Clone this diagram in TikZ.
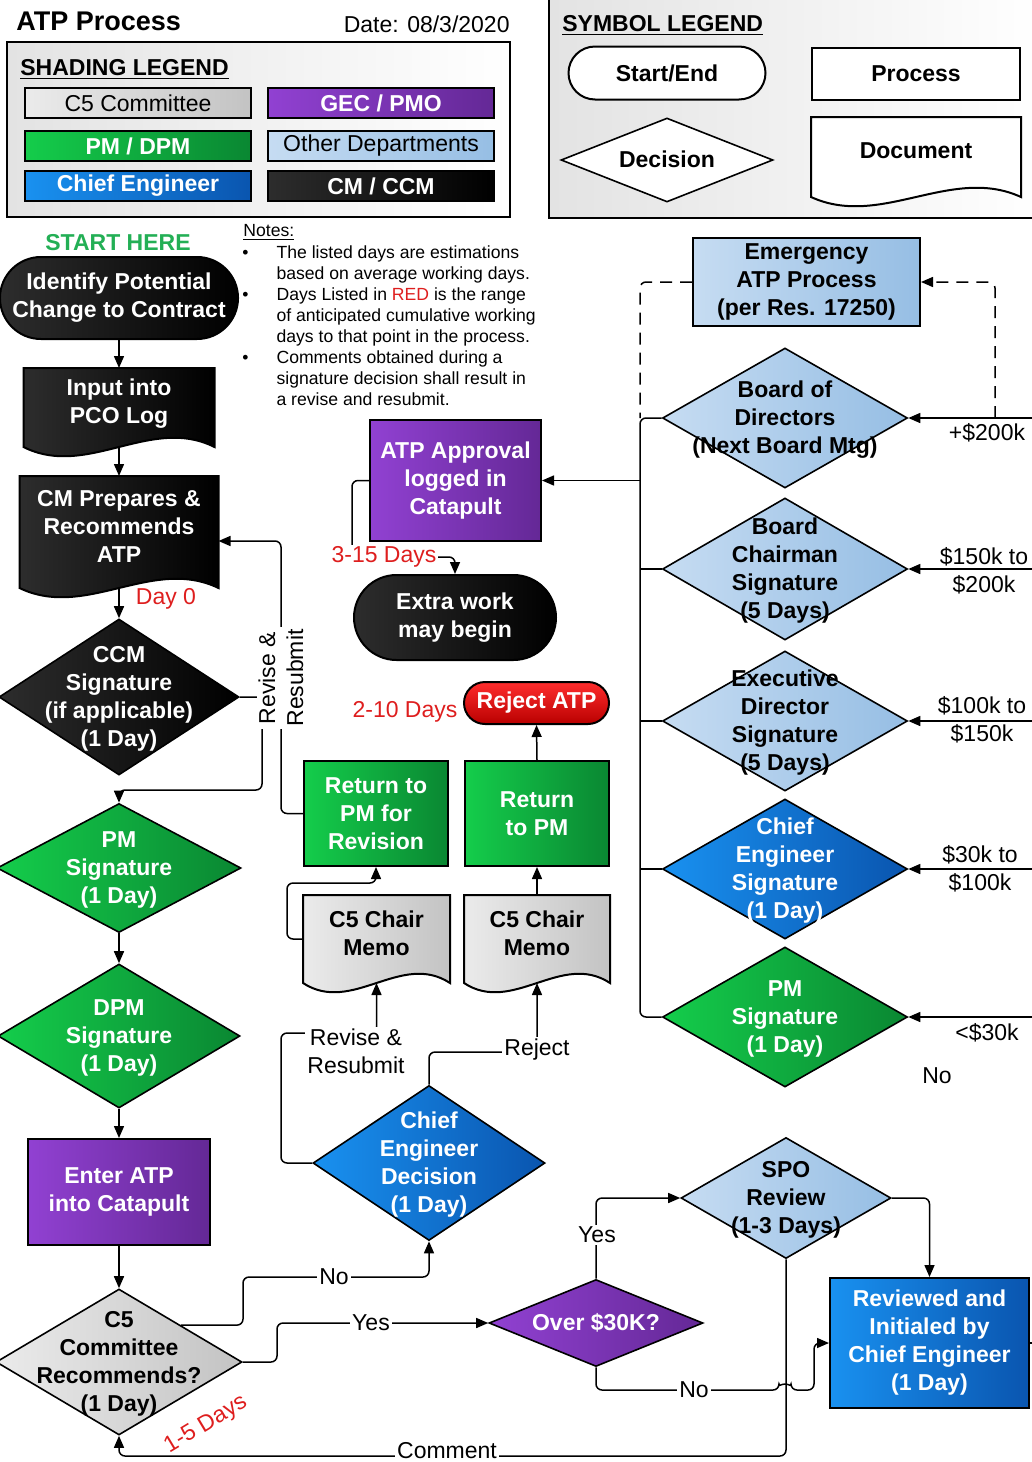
\documentclass[tikz,border=0pt]{standalone}
\usepackage{fontspec}
\setmainfont{Liberation Sans}
\usetikzlibrary{arrows.meta,shapes.geometric,shapes.misc}

\definecolor{pmL}{RGB}{20,205,75}
\definecolor{pmD}{RGB}{10,135,50}
\definecolor{gecL}{RGB}{145,65,210}
\definecolor{gecD}{RGB}{100,40,150}
\definecolor{ceL}{RGB}{25,145,240}
\definecolor{ceD}{RGB}{10,85,175}
\definecolor{odL}{RGB}{198,220,242}
\definecolor{odD}{RGB}{150,190,228}
\definecolor{c5L}{RGB}{235,235,235}
\definecolor{c5D}{RGB}{195,195,195}
\definecolor{cmL}{RGB}{45,45,45}
\definecolor{cmD}{RGB}{0,0,0}
\definecolor{rejL}{RGB}{255,45,45}
\definecolor{rejD}{RGB}{185,0,0}
\definecolor{dayred}{RGB}{222,30,30}
\definecolor{startgreen}{RGB}{35,175,85}

% flowchart document: a box with a wavy bottom
\makeatletter
\pgfdeclareshape{document}{
  \inheritsavedanchors[from=rectangle]
  \inheritanchorborder[from=rectangle]
  \inheritanchor[from=rectangle]{center}
  \inheritanchor[from=rectangle]{north}
  \inheritanchor[from=rectangle]{south}
  \inheritanchor[from=rectangle]{east}
  \inheritanchor[from=rectangle]{west}
  \inheritanchor[from=rectangle]{north east}
  \inheritanchor[from=rectangle]{north west}
  \inheritanchor[from=rectangle]{south east}
  \inheritanchor[from=rectangle]{south west}
  \backgroundpath{%
    \southwest \edef\docl{\the\pgf@x}\edef\docb{\the\pgf@y}%
    \northeast \edef\docr{\the\pgf@x}\edef\doct{\the\pgf@y}%
    \pgf@xc=\docr \advance\pgf@xc by-\docl \pgf@xc=0.333\pgf@xc
    \pgf@xa=\docr \advance\pgf@xa by-\pgf@xc \edef\docca{\the\pgf@xa}%
    \pgf@xa=\docl \advance\pgf@xa by\pgf@xc \edef\doccb{\the\pgf@xa}%
    \pgf@ya=\docb \advance\pgf@ya by 16pt \edef\docup{\the\pgf@ya}%
    \pgf@ya=\docb \advance\pgf@ya by -16pt \edef\docdn{\the\pgf@ya}%
    \pgfpathmoveto{\pgfqpoint{\docl}{\doct}}%
    \pgfpathlineto{\pgfqpoint{\docr}{\doct}}%
    \pgfpathlineto{\pgfqpoint{\docr}{\docb}}%
    \pgfpathcurveto{\pgfqpoint{\docca}{\docup}}{\pgfqpoint{\doccb}{\docdn}}{\pgfqpoint{\docl}{\docb}}%
    \pgfpathclose
  }
}
\makeatother

% lines of a decision, kept out of the diamond's size
\newcommand{\dlines}[1]{\smash{\raisebox{-4pt}{\makebox[0pt]{\begin{tabular}{@{}c@{}}#1\end{tabular}}}}}

\begin{document}
\begin{tikzpicture}[x=0.5pt, y=-0.5pt,
    txt/.style={inner sep=0pt, font=\fontsize{11.5}{14}\selectfont},
    bold/.style={inner sep=0pt, font=\fontsize{11.5}{14}\selectfont\bfseries},
    small/.style={inner sep=0pt, font=\fontsize{8.8}{10.5}\selectfont},
    lbl/.style={txt, fill=white, inner sep=1pt},
    days/.style={lbl, text=dayred},
    line/.style={line width=0.75pt, rounded corners=3pt},
    arr/.style={line, -{Triangle[length=6pt,width=5pt]}},
    box/.style={rectangle, draw, line width=1pt, align=center, inner sep=2pt,
        font=\fontsize{11.5}{14}\selectfont\bfseries},
    term/.style={box, rounded rectangle},
    dec/.style={box, diamond, inner sep=0pt, line width=0.8pt},
    docu/.style={box, document, execute at end node={\rule[-6pt]{0pt}{0pt}}},
    leg/.style={box, minimum width=113pt, minimum height=15pt, inner sep=0pt},
    panel/.style={rectangle, draw, line width=1pt, left color=gray!22, right color=white, inner sep=0pt},
    fillpm/.style={left color=pmL, right color=pmD, text=white},
    fillgec/.style={left color=gecL, right color=gecD, text=white},
    fillce/.style={left color=ceL, right color=ceD, text=white},
    fillod/.style={left color=odL, right color=odD, text=black},
    fillc5/.style={left color=c5L, right color=c5D, text=black},
    fillcm/.style={left color=cmL, right color=cmD, text=white},
    fillrej/.style={top color=rejL, bottom color=rejD, text=white}]
    \useasboundingbox (0,0) rectangle (1032,1462);

    % Legends
    \node[bold, font=\fontsize{13.5}{16}\selectfont\bfseries, anchor=west] (title) at (16,21) {ATP Process};
    \node[txt, anchor=east] (date) at (510,24) {Date: 08/3/2020};
    \node[panel, minimum width=251.5pt, minimum height=87.5pt] (shadebox) at (258.5,129.5) {};
    \node[bold, anchor=base west] (shadehead) at (20,75) {\underline{SHADING LEGEND}};
    \node[leg, fillc5, font=\fontsize{11.5}{14}\selectfont] (legc5) at (138,103) {C5 Committee};
    \node[leg, fillgec] (leggec) at (381,103) {GEC / PMO};
    \node[leg, fillpm] (legpm) at (138,146) {PM / DPM};
    \node[leg, fillod, font=\fontsize{11.5}{14}\selectfont] (legod) at (381,146) {Other Departments};
    \node[leg, fillce] (legce) at (138,186) {Chief Engineer};
    \node[leg, fillcm] (legcm) at (381,186) {CM / CCM};

    \node[panel, minimum width=245.5pt, minimum height=111.5pt] (symbox) at (794.5,106.5) {};
    \node[bold, anchor=base west] (symhead) at (562,31) {\underline{SYMBOL LEGEND}};
    \node[term, fill=white, minimum width=102.5pt, minimum height=26.5pt] (symterm) at (667,73) {Start/End};
    \node[box, fill=white, minimum width=104pt, minimum height=26pt] (symproc) at (916,74) {Process};
    \node[dec, fill=white, minimum width=106pt, minimum height=42pt] (symdec) at (667,160) {\dlines{Decision}};
    \node[docu, fill=white, minimum width=104pt, minimum height=39pt] (symdoc) at (916,157) {Document};

    % Notes
    \node[small, anchor=base west] (noteshead) at (243,236) {\underline{Notes:}};
    \node[small, anchor=north west] (notes) at (242,243) {\begin{tabular}{@{}l@{\hspace{14pt}}l@{}}
        \textbullet & The listed days are estimations\\
        & based on average working days.\\
        \textbullet & Days Listed in \textcolor{dayred}{RED} is the range\\
        & of anticipated cumulative working\\
        & days to that point in the process.\\
        \textbullet & Comments obtained during a\\
        & signature decision shall result in\\
        & a revise and resubmit.
    \end{tabular}};

    % Left column
    \node[bold, text=startgreen, anchor=base] (starthere) at (118,250) {START HERE};
    \node[term, fillcm, minimum width=117pt, minimum height=41pt] (identify) at (119,298) {Identify Potential\\Change to Contract};
    \node[docu, fillcm, minimum width=94.5pt, minimum height=38.5pt] (pco) at (119,407.5) {Input into\\PCO Log};
    \node[docu, fillcm, minimum width=98.5pt, minimum height=55pt] (cmprep) at (119,532) {CM Prepares \&\\Recommends\\ATP};
    \node[txt, text=dayred] (day0) at (166,599) {Day 0};
    \node[dec, fillcm, minimum width=120pt, minimum height=78pt] (ccm) at (119,697) {\dlines{CCM\\Signature\\(if applicable)\\(1 Day)}};
    \node[dec, fillpm, minimum width=122pt, minimum height=64.5pt] (pmsig) at (119,868) {\dlines{PM\\Signature\\(1 Day)}};
    \node[dec, fillpm, minimum width=121pt, minimum height=72pt] (dpmsig) at (119,1036) {\dlines{DPM\\Signature\\(1 Day)}};
    \node[box, fillgec, minimum width=91pt, minimum height=53pt] (enteratp) at (119,1192) {Enter ATP\\into Catapult};
    \node[dec, fillc5, minimum width=123pt, minimum height=73pt] (c5rec) at (119,1362) {\dlines{C5\\Committee\\Recommends?\\(1 Day)}};
    \node[txt, text=dayred, rotate=31] (days15) at (206,1425) {1-5 Days};

    % Middle column
    \node[box, fillgec, minimum width=85.5pt, minimum height=60.5pt] (approval) at (455.5,480.5) {ATP Approval\\logged in\\Catapult};
    \node[term, fillcm, minimum width=105pt, minimum height=42.5pt] (extra) at (455,617.5) {Extra work\\may begin};
    \node[term, fillrej, minimum width=76.5pt, minimum height=21pt] (reject) at (536.5,703) {Reject ATP};
    \node[txt, text=dayred] (days210) at (405,712) {2-10 Days};
    \node[box, fillpm, minimum width=72pt, minimum height=52.5pt] (retrev) at (376,813.5) {Return to\\PM for\\Revision};
    \node[box, fillpm, minimum width=72pt, minimum height=52.5pt] (retpm) at (537,813.5) {Return\\to PM};
    \node[docu, fillc5, minimum width=72.5pt, minimum height=43pt] (memoa) at (376.5,939) {C5 Chair\\Memo};
    \node[docu, fillc5, minimum width=72pt, minimum height=43pt] (memob) at (537,939) {C5 Chair\\Memo};
    \node[dec, fillce, minimum width=116pt, minimum height=77.5pt] (ced) at (429,1163) {\dlines{Chief\\Engineer\\Decision\\(1 Day)}};
    \node[dec, fillgec, minimum width=107pt, minimum height=43.5pt] (over) at (596,1323) {\dlines{Over \$30K?}};
    \node[dec, fillod, minimum width=105pt, minimum height=60.5pt] (spo) at (786,1198) {\dlines{SPO\\Review\\(1-3 Days)}};
    \node[box, fillce, minimum width=99.5pt, minimum height=65pt] (reviewed) at (929.5,1343) {Reviewed and\\Initialed by\\Chief Engineer\\(1 Day)};

    % Right column
    \node[box, fillod, minimum width=113.5pt, minimum height=44pt] (emerg) at (806.5,282) {Emergency\\ATP Process\\(per Res. 17250)};
    \node[dec, fillod, minimum width=122.5pt, minimum height=70pt] (bod) at (785,418) {\dlines{Board of\\Directors\\(Next Board Mtg)}};
    \node[dec, fillod, minimum width=122.5pt, minimum height=71pt] (bcs) at (785,569) {\dlines{Board\\Chairman\\Signature\\(5 Days)}};
    \node[dec, fillod, minimum width=122.5pt, minimum height=70pt] (eds) at (785,721) {\dlines{Executive\\Director\\Signature\\(5 Days)}};
    \node[dec, fillce, minimum width=122.5pt, minimum height=70pt] (ces) at (785,869) {\dlines{Chief\\Engineer\\Signature\\(1 Day)}};
    \node[dec, fillpm, minimum width=122.5pt, minimum height=70pt] (pmsigb) at (785,1017) {\dlines{PM\\Signature\\(1 Day)}};
    \node[txt] (over200) at (987,433) {+\$200k};
    \node[txt, align=center] (to200) at (984,571) {\$150k to\\\$200k};
    \node[txt, align=center] (to150) at (982,720) {\$100k to\\\$150k};
    \node[txt, align=center] (to100) at (980,869) {\$30k to\\\$100k};
    \node[txt] (under30) at (987,1033) {<\$30k};
    \node[txt] (nolbl) at (937,1076) {No};
    \coordinate (rim) at (1032,0);
    \coordinate (bus) at (640,0);

    % Arrows
    \draw[arr] (identify.south) -- (pco.north);
    \draw[arr] (pco.south) -- (cmprep.north);
    \draw[arr] (cmprep.south) -- (ccm.north);
    \draw[arr] (ccm.east) -| (262,790) -| (pmsig.north);
    \draw[arr] (pmsig.south) -- (dpmsig.north);
    \draw[arr] (dpmsig.south) -- (enteratp.north);
    \draw[arr] (enteratp.south) -- (c5rec.north);
    \draw[arr] (retrev.west) -| (281,541) -- (cmprep.east |- 0,541);
    \draw[arr] (approval.west) -| (352,557) -| (extra.north);
    \draw[arr] (retpm.north) -- (reject.south);
    \draw[arr] (memob.north) -- (retpm.south);
    \draw[arr] (memoa.west) -| (287,883) -| (retrev.south);
    \draw[arr] (ced.west) -| (281,1033) -| (memoa.south);
    \draw[arr] (ced.north) |- (537,1052) -- (memob.south);
    \draw[arr] (c5rec.north east) -| (243,1277) -| (ced.south);
    \draw[arr] (c5rec.east) -| (277,1323) -- (over.west);
    \draw[arr] (spo.south) |- (300,1456) -| (c5rec.south);
    \draw[arr] (over.north) |- (spo.west);
    \draw[arr] (over.south) |- (779,1390) arc[start angle=180, end angle=0, radius=3pt] -- (814,1390) |- (reviewed.west);
    \draw[arr] (spo.east) -| (reviewed.north);
    \draw[line] (reviewed.east) -- (reviewed.east -| rim);
    \foreach \d in {bod,bcs,eds,ces,pmsigb}
        \draw[arr] (\d.east -| rim) -- (\d.east);
    \draw[line] (bod.west) -| (bus |- pmsigb.west) -- (pmsigb.west);
    \foreach \d in {bcs,eds,ces}
        \draw[line] (\d.west) -- (\d.west -| bus);
    \draw[arr] (approval.east -| bus) -- (approval.east);
    \draw[arr, dash pattern=on 6pt off 4pt] (bod.east -| 995,0) |- (emerg.east);
    \draw[line, dash pattern=on 6pt off 4pt] (emerg.west) -| (bus |- bod.west);

    % Connector labels
    \node[lbl, rotate=90, align=center] (revlbla) at (281,678) {Revise \&\\Resubmit};
    \node[days] (days315) at (384,557) {3-15 Days};
    \node[lbl, align=center] (revlblb) at (356,1051) {Revise \&\\Resubmit};
    \node[lbl] (rejlbl) at (537,1050) {Reject};
    \node[lbl] (nolbla) at (334,1277) {No};
    \node[lbl] (yeslbla) at (371,1323) {Yes};
    \node[lbl] (commentlbl) at (447,1451) {Comment};
    \node[lbl] (yeslblb) at (597,1235) {Yes};
    \node[lbl] (nolblb) at (694,1390) {No};
\end{tikzpicture}
\end{document}
